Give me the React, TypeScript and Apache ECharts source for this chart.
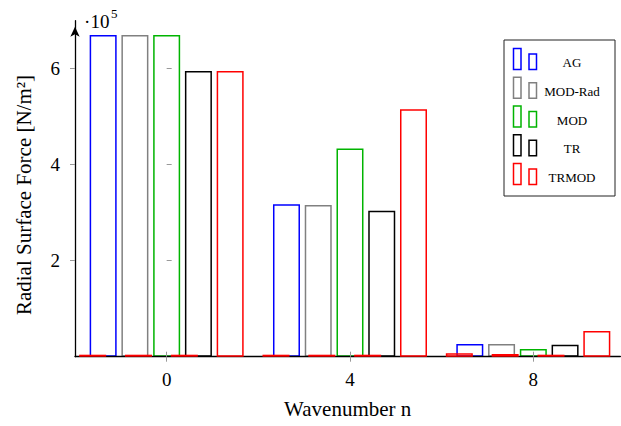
import React, { useEffect, useRef } from 'react';
import * as echarts from 'echarts';

const seriesNames = ['AG', 'MOD-Rad', 'MOD', 'TR', 'TRMOD'];
const wavenumbers = [0, 4, 8];
const agValues = [6.7, 3.175, 0.265];
const modRadValues = [6.7, 3.16, 0.265];
const modValues = [6.7, 4.34, 0.16];
const trValues = [5.95, 3.04, 0.25];
const trmodN = [-3, -2, -1, 0, 1, 2, 3, 4, 5, 6, 7, 8];
const trmodValues = [0, 0, 0, 5.95, 0, 0, 0, 5.155, 0.07, 0.056, 0.04, 0.535];
const seriesColors = ['#0000ff', '#808080', '#00b400', '#000000', '#ff0000'];
const xTicks = [0, 4, 8];
const yTicks = [2, 4, 6];
const yLabel = 'Radial Surface Force [N/m²]';
const xLabel = 'Wavenumber n';

const FONT = "'Liberation Serif', 'DejaVu Serif', serif";

export default function App() {
  const ref = useRef<HTMLDivElement>(null);
  useEffect(() => {
    document.body.style.margin = '0';
    if (!ref.current) return;
    const chart = echarts.init(ref.current, null, { renderer: 'svg' });

    const mk = (i: number, xs: number[], ys: number[], extra: any = {}) => ({
      type: 'bar',
      name: seriesNames[i],
      data: xs.map((x, k) => [x, ys[k]]),
      barWidth: 27,
      barGap: '17.6%',
      silent: true,
      itemStyle: { color: 'rgba(255,255,255,0)', borderColor: seriesColors[i], borderWidth: 1.5 },
      emphasis: { disabled: true },
      z: 2,
      ...extra,
    });

    const legendItems: any[] = [];
    legendItems.push({
      type: 'rect',
      shape: { x: 504, y: 40, width: 111, height: 156 },
      style: { fill: '#fff', stroke: '#222', lineWidth: 1 },
      z: 10,
    });
    seriesNames.forEach((name, i) => {
      const bottom = 69.5 + i * 28.75;
      legendItems.push({
        type: 'rect',
        shape: { x: 513.5, y: bottom - 21, width: 7.5, height: 21 },
        style: { fill: '#fff', stroke: seriesColors[i], lineWidth: 1.5 },
        z: 11,
      });
      legendItems.push({
        type: 'rect',
        shape: { x: 529, y: bottom - 15.5, width: 7.5, height: 15.5 },
        style: { fill: '#fff', stroke: seriesColors[i], lineWidth: 1.5 },
        z: 11,
      });
      legendItems.push({
        type: 'text',
        x: 572,
        y: bottom - 7,
        style: { text: name, fill: '#000', font: `13px ${FONT}`, align: 'center', verticalAlign: 'middle' },
        z: 11,
      });
    });

    const option: any = {
      animation: false,
      grid: { left: 75, right: 0.6, top: 20.7, bottom: 69.3, containLabel: false, outerBoundsMode: 'none' },
      xAxis: [
        {
          type: 'value',
          min: -2,
          max: 9.9,
          z: 3,
          axisLine: { show: true, onZero: false, lineStyle: { color: '#000', width: 1.3 } },
          axisTick: { show: true, customValues: xTicks, length: 5, lineStyle: { color: '#999', width: 1 } },
          axisLabel: { customValues: xTicks, margin: 13, fontSize: 19, color: '#000', fontFamily: FONT },
          splitLine: { show: false },
          name: xLabel,
          nameLocation: 'middle',
          nameGap: 42,
          nameTextStyle: { fontSize: 21, color: '#000', fontFamily: FONT },
        },
        {
          type: 'value',
          position: 'bottom',
          min: -2,
          max: 9.9,
          z: 3,
          axisLine: { show: false },
          axisTick: { show: true, inside: true, customValues: xTicks, length: 5, lineStyle: { color: '#999', width: 1 } },
          axisLabel: { show: false },
          splitLine: { show: false },
        },
      ],
      yAxis: [
        {
          type: 'value',
          min: 0,
          max: 7,
          z: 3,
          axisLine: {
            show: true,
            onZero: false,
            symbol: ['none', 'arrow'],
            symbolSize: [7, 10],
            symbolOffset: [0, -6],
            lineStyle: { color: '#000', width: 1.3 },
          },
          axisTick: { show: true, customValues: yTicks, length: 5, lineStyle: { color: '#999', width: 1 } },
          axisLabel: { customValues: yTicks, margin: 15, fontSize: 19, color: '#000', fontFamily: FONT },
          splitLine: { show: false },
        },
        {
          type: 'value',
          position: 'left',
          min: 0,
          max: 7,
          z: 3,
          axisLine: { show: false },
          axisTick: { show: true, inside: true, customValues: yTicks, length: 5, lineStyle: { color: '#999', width: 1 } },
          axisLabel: { show: false },
          splitLine: { show: false },
        },
      ],
      series: [
        mk(0, wavenumbers, agValues),
        mk(1, wavenumbers, modRadValues),
        mk(2, wavenumbers, modValues),
        mk(3, wavenumbers, trValues),
        mk(4, trmodN, trmodValues, { z: 4, barMinHeight: 2 }),
      ],
      graphic: [
        {
          type: 'text',
          x: 24,
          y: 195,
          rotation: Math.PI / 2,
          style: { text: yLabel, fill: '#000', font: `21px ${FONT}`, align: 'center', verticalAlign: 'middle' },
        },
        {
          type: 'text',
          x: 84,
          y: 21,
          style: { text: '·', fill: '#000', font: `19px ${FONT}`, align: 'left', verticalAlign: 'middle' },
        },
        {
          type: 'text',
          x: 90.5,
          y: 21,
          style: { text: '10', fill: '#000', font: `19px ${FONT}`, align: 'left', verticalAlign: 'middle' },
        },
        {
          type: 'text',
          x: 111,
          y: 13.5,
          style: { text: '5', fill: '#000', font: `13px ${FONT}`, align: 'left', verticalAlign: 'middle' },
        },
        ...legendItems,
      ],
    };
    chart.setOption(option);
    return () => chart.dispose();
  }, []);
  return <div ref={ref} style={{ width: 621, height: 426 }} />;
}
